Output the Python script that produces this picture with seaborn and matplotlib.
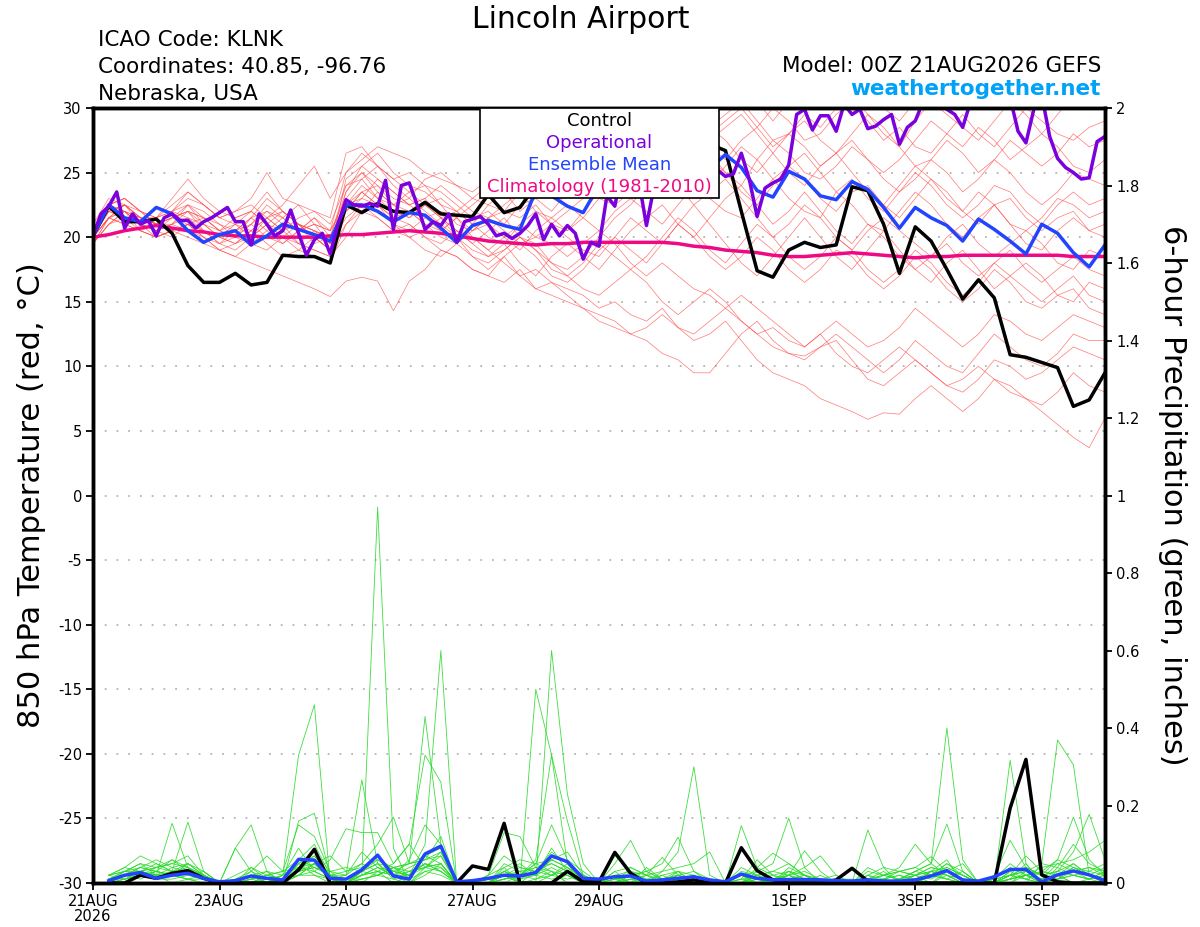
import numpy as np
import pandas as pd
import matplotlib
matplotlib.use('Agg')
import matplotlib.pyplot as plt
from matplotlib.patches import Rectangle
import seaborn as sns

# Pasos de 6 horas desde 00Z 21AUG2026 (65 puntos = 16 dias)
steps = np.arange(65)
precip_steps = np.arange(1, 65)
oper_steps = np.arange(129) / 2.0   # el operacional va cada 3 horas
tick_steps = [0, 8, 16, 24, 32, 44, 52, 60]
tick_labels = ['21AUG\n2026', '23AUG', '25AUG', '27AUG', '29AUG', '1SEP', '3SEP', '5SEP']

# Temperatura 850 hPa (C)
control_temp = [20.1, 22.4, 21.2, 21.2, 21.4, 20.3, 17.8, 16.5, 16.5, 17.2,
                16.3, 16.5, 18.6, 18.5, 18.5, 18.0, 22.5, 21.9, 22.6, 22.0,
                21.9, 22.7, 21.8, 21.7, 21.6, 23.3, 21.9, 22.3, 24.0, 24.5,
                25.0, 25.5, 26.0, 25.5, 26.0, 26.5, 26.0, 26.5, 27.0, 27.2,
                26.7, 22.0, 17.4, 16.9, 19.0, 19.6, 19.2, 19.4, 23.9, 23.6,
                21.0, 17.2, 20.8, 19.7, 17.5, 15.2, 16.7, 15.3, 10.9, 10.7,
                10.3, 9.9, 6.9, 7.4, 9.5]
mean_temp = [20.1, 22.5, 21.5, 21.2, 22.3, 21.8, 20.5, 19.6, 20.2, 20.5,
             19.4, 20.1, 21.0, 20.6, 20.2, 19.7, 22.5, 22.5, 22.0, 21.2,
             21.9, 21.7, 20.7, 19.6, 20.9, 21.3, 20.9, 20.6, 23.6, 23.2,
             22.4, 21.9, 24.0, 24.3, 24.0, 24.5, 24.8, 25.0, 25.0, 25.3,
             26.4, 25.4, 23.6, 23.1, 25.1, 24.5, 23.2, 22.9, 24.3, 23.7,
             22.3, 20.7, 22.3, 21.5, 20.9, 19.7, 21.4, 20.6, 19.7, 18.7,
             21.0, 20.3, 18.8, 17.7, 19.4]
clim_temp = [20.0, 20.2, 20.5, 20.7, 20.9, 20.7, 20.5, 20.4, 20.2, 20.1,
             20.1, 20.0, 20.0, 20.0, 20.0, 20.1, 20.2, 20.2, 20.3, 20.4,
             20.5, 20.4, 20.3, 20.1, 19.9, 19.7, 19.6, 19.5, 19.4, 19.5,
             19.5, 19.6, 19.6, 19.6, 19.6, 19.6, 19.6, 19.5, 19.3, 19.2,
             19.0, 18.9, 18.8, 18.6, 18.5, 18.5, 18.6, 18.7, 18.8, 18.7,
             18.6, 18.5, 18.4, 18.5, 18.5, 18.6, 18.6, 18.6, 18.6, 18.6,
             18.6, 18.6, 18.5, 18.5, 18.5]
oper_temp = [20.1, 21.8, 22.4, 23.5, 20.7, 21.8, 21.0, 21.3, 20.1, 21.5,
             21.8, 21.3, 21.3, 20.7, 21.2, 21.5, 21.9, 22.3, 21.2, 21.2,
             19.4, 21.8, 21.0, 20.1, 20.5, 22.1, 20.3, 18.6, 19.8, 20.3,
             18.7, 21.0, 22.9, 22.5, 22.4, 22.6, 22.4, 24.4, 20.6, 24.0,
             24.2, 22.5, 20.6, 21.2, 20.9, 21.8, 19.6, 21.2, 21.4, 21.6,
             21.0, 20.1, 20.3, 19.9, 20.3, 20.9, 21.8, 19.8, 21.0, 20.1,
             20.9, 20.3, 18.3, 19.6, 19.3, 23.2, 22.4, 25.5, 26.0, 24.5,
             20.9, 24.0, 25.0, 26.0, 25.5, 26.5, 26.0, 25.0, 25.5, 25.2,
             24.7, 24.9, 26.5, 24.5, 21.6, 23.8, 24.2, 24.5, 25.6, 29.5,
             29.9, 28.3, 29.4, 29.4, 28.2, 30.3, 29.5, 29.9, 28.4, 28.6,
             29.1, 29.5, 27.2, 28.5, 29.0, 30.5, 31.0, 30.8, 29.9, 29.5,
             28.5, 30.5, 31.2, 31.5, 31.0, 31.3, 30.8, 28.2, 27.3, 29.9,
             31.0, 27.8, 26.1, 25.4, 25.0, 24.5, 24.6, 27.4, 27.8]

# Miembros del ensemble (temperatura)
temp_m01 = [20.5, 22.0, 22.5, 21.5, 21.0, 21.5, 22.0, 20.5, 20.0, 21.0, 20.5, 21.5, 22.0, 21.0, 20.5,
            20.0, 23.5, 25.5, 26.5, 25.0, 24.0, 23.5, 22.5, 22.0, 23.0, 24.0, 23.5, 24.5, 25.5, 26.0,
            25.5, 27.0, 28.0, 29.5, 28.5, 30.0, 31.0, 30.0, 29.5, 31.0, 32.0, 31.0, 30.5, 29.0, 30.5,
            31.5, 30.5, 31.0, 32.0, 31.0, 30.0, 29.0, 30.5, 31.5, 32.0, 31.0, 30.0, 31.5, 32.5, 31.5,
            30.5, 31.5, 32.0, 31.0, 31.0]
temp_m02 = [20.0, 21.5, 22.5, 22.0, 21.5, 22.0, 21.5, 21.0, 20.5, 21.5, 22.0, 21.0, 20.5, 21.5, 22.0,
            21.0, 24.0, 24.5, 23.0, 22.5, 23.5, 22.5, 21.5, 22.0, 21.0, 22.5, 23.5, 22.0, 23.0, 24.5,
            26.0, 25.0, 26.5, 27.5, 26.5, 28.0, 29.5, 28.5, 27.0, 28.5, 29.5, 30.5, 29.0, 27.5, 28.0,
            29.5, 28.5, 30.0, 31.0, 29.5, 28.0, 27.0, 29.0, 30.5, 29.5, 28.5, 27.5, 29.0, 30.5, 29.5,
            28.0, 29.5, 31.0, 30.5, 30.0]
temp_m03 = [19.5, 21.0, 22.0, 21.5, 20.5, 21.0, 22.5, 21.5, 20.5, 20.0, 21.0, 22.5, 21.5, 20.5, 21.0,
            20.5, 22.5, 23.0, 24.5, 23.5, 22.5, 23.0, 24.0, 23.0, 22.0, 21.5, 22.0, 23.5, 24.5, 25.5,
            24.0, 23.5, 25.0, 26.5, 27.0, 25.5, 26.0, 27.5, 28.5, 27.0, 26.0, 27.5, 28.5, 30.0, 29.0,
            27.5, 28.0, 29.5, 30.5, 29.0, 27.5, 28.5, 27.0, 26.5, 28.0, 29.5, 28.0, 27.0, 28.5, 30.0,
            29.0, 28.0, 27.5, 28.5, 29.0]
temp_m04 = [20.0, 22.5, 23.0, 22.0, 21.5, 22.5, 23.5, 22.5, 21.5, 22.0, 23.0, 25.0, 23.0, 22.5, 22.0,
            21.5, 26.5, 27.0, 25.5, 24.5, 25.0, 24.0, 23.5, 22.5, 21.5, 22.0, 21.0, 22.5, 23.0, 22.0,
            23.5, 24.5, 26.0, 25.0, 27.0, 28.0, 26.5, 25.5, 27.0, 28.5, 27.5, 26.0, 25.0, 26.5, 28.0,
            29.0, 27.5, 26.5, 28.0, 29.5, 28.5, 27.0, 25.5, 26.0, 27.5, 26.5, 25.0, 26.0, 27.5, 26.5,
            25.5, 26.5, 28.0, 27.0, 27.5]
temp_m05 = [20.5, 22.0, 21.5, 21.0, 20.5, 21.0, 20.5, 20.0, 19.5, 20.5, 21.0, 20.0, 19.5, 20.5, 21.5,
            20.0, 22.0, 23.5, 24.0, 22.5, 23.0, 24.5, 25.0, 24.0, 23.5, 24.5, 25.5, 24.0, 23.5, 25.0,
            26.5, 27.5, 26.0, 25.0, 26.5, 27.5, 29.0, 30.5, 29.5, 28.0, 29.0, 30.0, 28.5, 27.0, 28.0,
            27.0, 25.5, 26.5, 27.5, 26.0, 25.0, 26.0, 27.5, 29.0, 28.0, 27.0, 28.5, 27.5, 26.0, 27.0,
            28.0, 27.0, 25.5, 25.0, 26.0]
temp_m06 = [19.5, 21.5, 22.0, 21.0, 21.5, 23.0, 24.5, 23.0, 22.0, 21.5, 22.0, 23.5, 22.0, 21.0, 20.5,
            19.5, 22.5, 23.5, 22.5, 21.5, 22.0, 21.0, 20.5, 21.5, 22.5, 23.5, 24.0, 25.0, 26.0, 25.5,
            24.5, 25.5, 26.5, 25.5, 24.0, 23.5, 25.0, 27.0, 28.0, 26.5, 25.0, 24.0, 26.0, 27.5, 26.5,
            25.0, 24.5, 25.5, 27.0, 26.0, 24.5, 23.5, 24.5, 26.0, 25.0, 23.5, 24.5, 26.0, 25.0, 23.5,
            22.5, 23.5, 25.0, 24.5, 24.0]
temp_m07 = [20.0, 22.0, 22.5, 21.5, 21.0, 21.5, 21.0, 20.5, 20.0, 19.5, 20.0, 21.5, 22.5, 24.0, 25.5,
            23.0, 25.0, 26.0, 27.0, 26.5, 26.0, 25.0, 24.5, 24.0, 23.0, 22.5, 22.0, 21.5, 22.5, 21.0,
            20.5, 22.0, 23.5, 25.0, 24.0, 23.0, 24.5, 26.5, 25.0, 24.0, 25.5, 27.0, 26.0, 24.5, 25.5,
            26.5, 25.0, 23.5, 24.5, 23.0, 22.0, 23.5, 25.0, 24.0, 22.5, 21.5, 22.5, 24.0, 23.5, 22.0,
            21.0, 22.5, 23.5, 22.5, 23.0]
temp_m08 = [20.5, 22.5, 22.0, 21.0, 20.5, 20.0, 21.0, 21.5, 21.0, 20.0, 19.5, 19.0, 20.0, 21.0, 20.5,
            19.5, 21.5, 22.5, 22.0, 21.0, 20.5, 21.5, 22.0, 21.5, 20.5, 21.5, 22.5, 23.5, 22.0, 21.0,
            22.0, 23.0, 24.5, 26.0, 25.0, 26.5, 28.0, 27.0, 26.0, 27.5, 28.5, 29.5, 28.0, 26.5, 25.0,
            24.0, 25.5, 26.5, 25.0, 23.5, 22.5, 24.0, 25.5, 24.5, 23.0, 22.0, 23.5, 22.5, 21.0, 20.5,
            21.5, 23.0, 22.5, 21.5, 22.0]
temp_m09 = [20.0, 21.5, 21.0, 20.5, 21.0, 21.5, 22.5, 22.0, 21.0, 20.5, 21.5, 22.0, 21.0, 19.5, 19.0,
            18.5, 20.0, 22.0, 23.5, 22.5, 21.5, 22.5, 23.0, 22.0, 21.0, 20.0, 19.5, 21.0, 22.0, 21.5,
            20.5, 21.5, 23.0, 22.5, 23.5, 25.0, 24.0, 23.0, 24.5, 26.0, 25.0, 23.5, 22.5, 24.0, 25.5,
            24.5, 23.0, 22.0, 23.5, 24.0, 22.5, 21.5, 23.0, 24.5, 23.5, 22.0, 21.0, 22.5, 23.0, 21.5,
            20.5, 21.5, 22.0, 20.5, 21.0]
temp_m10 = [21.0, 23.0, 22.5, 21.5, 21.0, 22.0, 23.0, 22.5, 21.5, 21.0, 20.0, 21.0, 22.0, 21.0, 19.5,
            20.0, 24.0, 25.0, 23.5, 22.5, 22.0, 21.0, 20.0, 19.5, 20.5, 21.0, 20.0, 19.0, 20.5, 21.5,
            22.5, 21.5, 20.5, 22.0, 23.0, 22.0, 21.0, 22.5, 24.0, 23.0, 22.0, 21.5, 23.0, 24.5, 23.0,
            22.0, 21.5, 23.5, 22.5, 21.0, 20.5, 22.0, 23.5, 22.5, 21.0, 20.0, 21.5, 22.5, 21.0, 19.5,
            19.0, 20.5, 21.5, 20.5, 20.0]
temp_m11 = [19.5, 21.0, 21.5, 21.0, 20.0, 20.5, 21.0, 20.0, 19.0, 19.5, 20.5, 19.5, 18.5, 19.0, 20.0,
            19.0, 21.0, 22.0, 21.5, 20.5, 21.0, 20.0, 19.5, 20.5, 19.5, 18.5, 19.0, 20.0, 19.5, 18.0,
            17.5, 18.5, 20.0, 21.5, 22.5, 24.0, 25.5, 24.0, 22.5, 23.5, 24.5, 23.0, 21.5, 20.0, 21.0,
            22.5, 21.5, 20.0, 19.0, 20.5, 21.5, 20.5, 19.5, 18.5, 20.0, 21.0, 19.5, 18.5, 19.5, 20.5,
            19.5, 18.0, 17.5, 19.0, 18.5]
temp_m12 = [20.0, 22.5, 23.0, 22.0, 21.0, 21.0, 22.0, 21.5, 20.5, 20.0, 21.0, 22.0, 21.5, 20.5, 21.0,
            20.5, 25.0, 26.5, 25.5, 24.0, 23.0, 22.0, 21.0, 20.0, 19.0, 18.5, 19.5, 18.0, 17.0, 18.5,
            19.5, 18.5, 17.5, 19.0, 20.5, 21.5, 22.5, 21.0, 20.0, 21.5, 23.0, 24.0, 22.5, 21.0, 22.0,
            23.5, 22.0, 20.5, 19.5, 21.0, 20.0, 18.5, 17.5, 18.5, 19.5, 18.0, 17.0, 18.0, 19.0, 17.5,
            16.5, 17.5, 18.5, 17.5, 17.0]
temp_m13 = [20.5, 22.0, 22.5, 21.5, 21.5, 22.0, 22.5, 21.0, 20.0, 20.5, 21.5, 20.5, 19.5, 20.5, 21.5,
            20.5, 23.0, 24.5, 25.5, 24.5, 23.5, 24.0, 22.5, 21.0, 20.5, 21.5, 20.5, 19.5, 20.0, 21.0,
            20.0, 19.0, 18.5, 20.0, 21.5, 20.5, 19.5, 21.0, 22.5, 21.0, 19.5, 18.0, 17.0, 18.5, 20.0,
            21.5, 20.0, 18.5, 17.5, 19.0, 20.5, 19.0, 17.5, 16.5, 18.0, 19.0, 17.5, 16.0, 17.0, 18.0,
            17.0, 15.5, 15.0, 16.5, 16.0]
temp_m14 = [19.5, 21.5, 22.0, 20.5, 20.0, 20.5, 21.0, 20.0, 19.0, 18.5, 19.5, 20.5, 21.5, 22.5, 21.0,
            19.5, 22.0, 23.0, 22.5, 21.0, 20.0, 20.5, 21.5, 20.0, 18.5, 18.0, 19.0, 20.0, 19.0, 17.5,
            17.0, 18.0, 19.5, 18.5, 17.5, 18.5, 20.0, 21.5, 20.5, 19.0, 18.0, 19.5, 21.0, 20.0, 18.5,
            17.5, 18.5, 20.0, 19.0, 17.5, 16.5, 17.5, 19.0, 18.0, 16.5, 15.5, 16.5, 18.0, 17.0, 16.0,
            15.0, 16.0, 17.0, 15.5, 15.0]
temp_m15 = [20.0, 21.5, 21.0, 20.5, 20.0, 20.5, 20.0, 19.5, 19.0, 18.5, 18.0, 17.5, 17.0, 16.5, 16.0,
            15.4, 16.6, 16.9, 16.6, 14.3, 16.6, 17.5, 19.0, 18.5, 17.5, 17.0, 18.5, 19.5, 18.5, 17.0,
            16.5, 17.5, 19.0, 20.0, 19.0, 18.0, 19.5, 21.0, 20.0, 18.5, 17.5, 18.5, 20.0, 19.0, 17.5,
            16.5, 17.5, 19.0, 18.5, 17.0, 16.0, 17.0, 18.5, 17.5, 16.0, 15.0, 16.0, 17.5, 16.5, 15.0,
            14.5, 15.5, 16.0, 14.5, 14.0]
temp_m16 = [20.5, 22.5, 22.0, 21.0, 20.5, 21.0, 21.5, 20.5, 19.5, 20.0, 21.5, 23.0, 22.0, 21.0, 20.0,
            19.0, 23.5, 25.0, 24.0, 23.0, 22.5, 21.5, 20.5, 21.5, 20.0, 19.0, 18.0, 17.0, 17.5, 16.5,
            16.0, 15.5, 14.5, 15.0, 14.0, 13.5, 14.5, 13.0, 12.5, 13.5, 14.5, 13.5, 12.5, 13.0, 12.0,
            11.5, 12.5, 13.5, 12.5, 11.5, 12.0, 13.0, 14.5, 13.5, 12.5, 11.5, 12.5, 14.0, 13.5, 12.5,
            12.0, 13.0, 14.0, 13.5, 13.0]
temp_m17 = [20.0, 21.5, 22.5, 21.0, 20.5, 21.5, 22.0, 21.0, 20.0, 19.5, 20.5, 21.5, 20.5, 19.5, 19.0,
            18.5, 22.0, 23.5, 22.5, 21.5, 21.0, 20.0, 19.0, 18.5, 17.5, 17.0, 16.5, 17.5, 16.0, 15.5,
            15.0, 14.5, 13.5, 13.0, 12.5, 12.0, 11.0, 10.5, 9.5, 9.5, 11.0, 12.5, 13.5, 12.0, 11.0,
            10.5, 11.5, 12.5, 11.5, 10.5, 9.5, 10.5, 12.0, 11.0, 10.0, 9.5, 11.0, 12.5, 11.5, 10.5,
            10.0, 11.0, 12.5, 12.0, 12.0]
temp_m18 = [19.5, 21.0, 22.0, 21.5, 21.0, 22.0, 23.5, 22.5, 21.5, 22.0, 22.5, 21.5, 20.5, 21.0, 20.0,
            19.0, 24.5, 25.5, 24.5, 23.5, 22.5, 23.0, 21.5, 20.5, 19.5, 20.5, 21.5, 20.0, 19.0, 18.0,
            17.0, 16.0, 15.5, 16.5, 17.5, 16.5, 15.0, 14.0, 15.0, 16.0, 15.0, 13.5, 12.5, 11.5, 11.0,
            10.8, 11.5, 12.0, 10.5, 9.0, 8.5, 9.5, 10.5, 9.5, 8.5, 8.0, 9.0, 10.5, 10.0, 9.0,
            9.5, 10.5, 11.5, 11.0, 10.5]
temp_m19 = [20.0, 22.0, 21.5, 20.5, 20.0, 20.5, 21.0, 20.5, 19.5, 19.0, 20.0, 21.0, 20.0, 19.0, 18.5,
            18.0, 21.0, 22.5, 21.5, 20.5, 20.0, 19.0, 18.5, 19.5, 18.5, 17.5, 18.5, 17.0, 16.0, 16.5,
            15.5, 14.5, 14.0, 13.5, 12.5, 13.0, 14.0, 13.0, 12.0, 12.5, 13.5, 12.0, 10.5, 9.5, 9.0,
            8.5, 7.5, 7.0, 6.5, 5.9, 6.4, 6.3, 7.5, 8.5, 7.5, 6.5, 7.5, 9.0, 8.5, 7.5,
            7.0, 8.0, 9.5, 8.5, 8.0]
temp_m20 = [20.5, 22.5, 23.0, 22.0, 21.0, 21.5, 22.0, 21.5, 20.5, 21.0, 22.0, 21.0, 20.0, 19.5, 20.5,
            20.0, 22.5, 24.0, 23.0, 22.0, 21.5, 22.5, 21.5, 20.5, 20.0, 19.0, 20.0, 21.0, 20.0, 19.5,
            18.5, 19.5, 20.5, 19.5, 18.0, 17.0, 18.0, 17.0, 16.0, 15.5, 14.5, 15.5, 14.5, 13.5, 12.5,
            11.5, 12.5, 11.0, 10.0, 9.5, 10.5, 11.5, 10.5, 9.5, 8.5, 9.0, 10.0, 9.0, 8.0, 7.5,
            6.5, 5.5, 4.5, 3.7, 6.0]

# Precipitacion de 6 horas (pulgadas), desde el paso 1
control_precip = [0, 0, .02, .012, .025, .032, .012, 0,
                  0, 0, 0, 0, .034, .087, 0, 0,
                  0, 0, 0, 0, 0, 0, 0, .044,
                  .035, .154, 0, 0, 0, .03, .003, .003,
                  .079, .025, 0, 0, .003, .008, 0, 0,
                  .091, .032, .008, 0, 0, 0, .008, .038,
                  .005, 0, 0, 0, 0, 0, 0, 0,
                  0, .193, .319, .021, .003, 0, 0, 0]
mean_precip = [.006, .02, .027, .012, .02, .025, .012, .003,
               .006, .018, .012, .008, .061, .059, .012, .01,
               .034, .072, .018, .01, .075, .095, .003, .006,
               .012, .02, .018, .027, .07, .055, .012, .01,
               .016, .018, .005, .008, .012, .016, .008, .003,
               .023, .012, .008, .009, .009, .008, .006, .005,
               .008, .005, .005, .008, .018, .032, .008, .005,
               .016, .035, .035, .003, .021, .031, .021, .006]

precip_m01 = [.01, .03, .05, .02, 0, .01, 0, 0, 0, .02, 0, 0, .05, .02, 0, 0,
              .02, .97, .09, 0, .02, .05, 0, 0, 0, .02, 0, .01, .03, 0, 0, 0,
              .02, 0, 0, .01, 0, 0, 0, 0, 0, .02, 0, 0, .01, 0, 0, 0,
              0, 0, .01, .03, .05, .40, .06, 0, 0, .01, .05, 0, .02, 0, 0, 0]
precip_m02 = [0, .02, .03, .02, .154, .04, .01, 0, 0, 0, .01, 0, .02, .05, .01, 0,
              0, .03, 0, .02, .10, .60, 0, 0, 0, 0, .02, .05, .03, 0, 0, 0,
              0, .02, 0, .03, .08, .30, .02, 0, 0, 0, .01, .02, 0, 0, 0, 0,
              0, 0, 0, .01, 0, .02, 0, 0, 0, 0, 0, .05, .369, .305, .02, 0]
precip_m03 = [.02, .04, .03, .05, .03, .157, .03, 0, 0, .03, 0, .02, .33, .46, 0, 0,
              .03, .05, .02, 0, .04, .08, 0, 0, 0, .01, .02, .06, .33, .05, 0, 0,
              0, 0, .01, 0, 0, .02, 0, 0, 0, .03, .05, .167, .04, 0, 0, 0,
              0, 0, 0, 0, .02, .05, .02, 0, 0, 0, .02, 0, .03, .05, .02, .01]
precip_m04 = [.01, .02, .04, .03, .02, .05, .02, 0, .09, .15, .03, 0, .06, .10, .02, .01,
              .01, .02, .04, .05, .43, .10, 0, 0, .01, .03, 0, 0, .02, .04, 0, 0,
              0, .03, 0, 0, .02, 0, 0, 0, .02, 0, 0, 0, 0, .01, 0, 0,
              0, 0, 0, .02, 0, .03, .01, 0, 0, .317, .05, 0, .01, .04, .02, 0]
precip_m05 = [0, .03, .02, .04, .06, .03, .01, 0, 0, 0, .02, .01, .03, .07, .02, .02,
              .266, .05, .01, 0, .03, .04, 0, 0, 0, .02, 0, .50, .33, .16, .02, 0,
              .02, 0, 0, 0, .01, 0, 0, 0, 0, .01, 0, .03, .02, 0, 0, 0,
              .02, 0, 0, 0, .03, .06, 0, 0, 0, 0, .03, .02, .06, .17, .06, .02]
precip_m06 = [.02, .03, .03, .02, .04, .05, .02, 0, 0, .04, .01, 0, .16, .18, .02, .03,
              .04, .06, .03, .02, .05, .03, 0, 0, .02, .04, 0, 0, .60, .23, .05, 0,
              0, .04, .02, .01, .03, 0, .01, 0, .148, .04, .02, 0, 0, .02, 0, 0,
              .01, .03, 0, .02, .03, .02, 0, 0, 0, .02, .04, .02, .03, .08, .177, .06]
precip_m07 = [.01, .02, .02, .03, .02, .03, .02, 0, 0, .02, .03, 0, .04, .03, .06, .14,
              .13, .13, .05, .10, .33, .26, 0, 0, 0, .03, .05, .02, .04, .02, 0, 0,
              .03, 0, 0, .02, 0, 0, 0, 0, 0, 0, 0, .02, .03, .01, 0, 0,
              .137, .04, 0, 0, .02, .03, .01, 0, 0, .01, .02, .04, .05, .06, .08, .11]
precip_m08 = [0, .01, .03, .02, .03, .04, .02, 0, 0, 0, .02, .03, .15, .12, .03, .02,
              .05, .10, .17, .05, .06, .12, 0, 0, .01, .02, 0, .03, .05, .03, 0, 0,
              0, .02, .03, .05, .118, .03, 0, 0, .02, 0, 0, .04, .02, 0, 0, 0,
              0, 0, .01, .03, .05, .152, .03, 0, 0, .03, .01, 0, .04, .10, .05, .03]
precip_m09 = [.02, .04, .07, .05, .03, .02, .01, 0, .02, .04, .02, .01, .05, .08, .03, 0,
              .02, .04, .02, .06, .15, .10, 0, 0, 0, .05, .03, .02, .06, .04, .01, 0,
              .05, .11, .03, .01, 0, .02, 0, 0, 0, .02, 0, .01, 0, 0, 0, 0,
              .03, .02, .04, .10, .05, .02, 0, 0, 0, .02, .07, .03, .02, 0, .01, .02]
precip_m10 = [.01, .03, .04, .06, .04, .03, .02, 0, .09, .03, .01, 0, .03, .05, .02, 0,
              .03, .05, .04, .02, .07, .09, 0, 0, .02, .07, .04, .03, .08, .05, .02, 0,
              .02, 0, .02, .066, .02, 0, 0, 0, .03, .02, 0, .02, .083, .03, 0, 0,
              0, .02, .03, .04, .068, .03, .01, 0, .01, .02, .03, .01, .05, .03, .02, .04]
precip_m11 = [.01, .02, .03, .04, .05, .04, .02, 0, .01, .03, .07, .03, .04, .06, .01, 0,
              .02, .03, .05, .10, .04, .05, 0, 0, 0, .04, .06, .05, .15, .06, .03, 0,
              .01, .02, 0, 0, .02, .01, 0, 0, 0, .04, .077, .05, .02, 0, 0, 0,
              0, .01, .02, 0, .03, .04, .02, 0, .02, .11, .04, .02, .01, .03, .04, .03]
precip_m12 = [.02, .03, .05, .04, .03, .05, .03, 0, 0, .02, .01, .02, .04, .05, .07, .03,
              .05, .03, .02, .04, .06, .07, 0, 0, .02, .13, .12, .04, .05, .03, 0, 0,
              .03, .04, .02, 0, .03, 0, 0, 0, .02, .03, .01, .02, 0, .01, 0, 0,
              .02, .04, .03, .02, .04, .03, .01, 0, 0, .02, .03, .05, .04, .02, .03, .05]
precip_m13 = [.01, .02, .03, .04, .05, .07, .02, 0, 0, .01, .03, .02, .05, .07, .02, 0,
              .03, .06, .04, .03, .05, .04, 0, 0, 0, .03, .02, .05, .06, .08, .02, 0,
              .02, .03, .02, .03, .04, .05, .08, 0, .01, .02, .03, .02, .04, .07, .02, 0,
              .02, .01, .03, .04, .02, .05, .03, 0, .01, .04, .02, .03, .02, .04, .03, .02]
precip_m14 = [0, .01, .02, .03, .06, .04, .02, 0, .01, .02, 0, .01, .03, .04, .03, .04,
              .03, .02, .04, .05, .06, .08, 0, 0, .01, .02, .03, .04, .02, .03, .01, 0,
              .07, .03, .01, .02, .03, .02, 0, 0, 0, .02, .03, .05, .02, .01, 0, 0,
              .01, .02, .03, .02, .04, .03, .05, 0, 0, .03, .04, .02, .03, .02, .01, .03]
precip_m15 = [.01, .02, .04, .03, .02, .03, .01, 0, 0, .01, .02, .03, .06, .04, .02, .01,
              .02, .04, .03, .05, .07, .05, 0, 0, 0, .02, .04, .03, .06, .04, .02, 0,
              .01, .02, .03, .01, .02, .03, .01, 0, .02, .01, .02, .03, .01, 0, 0, 0,
              .04, .02, .01, .03, .02, .04, .02, 0, 0, .02, .01, .03, .06, .04, .02, .01]
precip_m16 = [0, .02, .01, .03, .02, .01, .02, 0, 0, .01, .02, .01, .03, .04, .02, 0,
              .03, .07, .03, .02, .04, .03, 0, 0, 0, .01, .02, .04, .03, .02, 0, 0,
              .01, .02, 0, .01, .02, .01, 0, 0, .04, .02, .01, .02, .01, 0, 0, 0,
              .01, .02, .01, .02, .01, .03, .02, 0, 0, .01, .02, .01, .02, .03, .04, .02]
precip_m17 = [.01, .02, .03, .02, .02, .03, .01, 0, 0, .02, .01, 0, .02, .03, .01, .02,
              .08, .04, .02, .03, .04, .05, 0, 0, .01, .02, .01, .03, .02, .05, .01, 0,
              0, .01, .02, 0, .01, .02, 0, 0, .01, .06, .02, .01, .02, 0, 0, 0,
              0, .01, .02, .01, .03, .02, .01, 0, .01, .05, .02, .01, .02, .05, .02, .01]
precip_m18 = [0, .01, .02, .02, .02, .01, .01, 0, 0, .02, .01, .01, .02, .02, .01, 0,
              .02, .03, .02, .02, .05, .03, 0, 0, 0, .01, .02, .02, .09, .03, .01, 0,
              .01, 0, .04, .01, 0, .01, 0, 0, 0, .01, 0, .01, .02, .01, .02, 0,
              0, .01, 0, .01, .02, .01, .03, 0, 0, .01, .02, 0, .01, .02, .01, .03]
precip_m19 = [.01, .01, .02, .01, .02, .01, 0, 0, 0, .01, 0, .02, .09, .03, .01, 0,
              .01, .02, .04, .01, .03, .02, 0, 0, 0, .03, .01, .02, .01, .02, 0, 0,
              0, .01, 0, .01, .02, 0, 0, 0, .01, 0, .01, .03, .01, 0, 0, 0,
              0, 0, .01, .02, .03, .01, 0, 0, 0, .01, .02, .01, .02, .03, .01, 0]
precip_m20 = [.02, .01, .02, .01, .01, .02, .03, 0, 0, 0, .01, .01, .02, .05, .01, 0,
              .01, .02, .01, .03, .04, .07, 0, 0, 0, .01, .02, .01, .02, .01, .02, 0,
              0, .01, .01, 0, .01, 0, 0, 0, 0, .01, 0, .01, 0, 0, .01, .01,
              0, .01, 0, .01, .02, .01, 0, 0, .01, .02, .01, 0, .01, .02, .01, .02]

temp_members = [temp_m01, temp_m02, temp_m03, temp_m04, temp_m05, temp_m06, temp_m07,
                temp_m08, temp_m09, temp_m10, temp_m11, temp_m12, temp_m13, temp_m14,
                temp_m15, temp_m16, temp_m17, temp_m18, temp_m19, temp_m20]
precip_members = [precip_m01, precip_m02, precip_m03, precip_m04, precip_m05, precip_m06,
                  precip_m07, precip_m08, precip_m09, precip_m10, precip_m11, precip_m12,
                  precip_m13, precip_m14, precip_m15, precip_m16, precip_m17, precip_m18,
                  precip_m19, precip_m20]

# Tablas largas para seaborn (un "unit" por miembro)
temp_df = pd.DataFrame({
    'step': np.tile(steps, len(temp_members)),
    'temp': np.concatenate(temp_members),
    'member': np.repeat(np.arange(len(temp_members)), len(steps)),
})
precip_df = pd.DataFrame({
    'step': np.tile(precip_steps, len(precip_members)),
    'precip': np.concatenate(precip_members),
    'member': np.repeat(np.arange(len(precip_members)), len(precip_steps)),
})

plt.rcParams['axes.unicode_minus'] = False
plt.rcParams['font.family'] = ['DejaVu Sans']

W, H = 1200, 927
fig = plt.figure(figsize=(W / 100, H / 100), dpi=100)
ax = fig.add_axes([93 / W, (H - 883) / H, 1012 / W, 775 / H])
ax2 = ax.twinx()

# Lineas de referencia punteadas
for v in range(-25, 30, 5):
    ax.axhline(v, color='#B4B4B4', lw=1.3, ls=(0, (1, 5.5)), zorder=0.5)

# Temperatura: miembros y lineas principales
sns.lineplot(data=temp_df, x='step', y='temp', units='member', estimator=None,
             color='#FF4A4A', linewidth=0.5, alpha=0.75, ax=ax, legend=False)
sns.lineplot(x=steps, y=clim_temp, color='#EE0A84', linewidth=2.5, ax=ax)
sns.lineplot(x=steps, y=control_temp, color='black', linewidth=2.5, ax=ax)
sns.lineplot(x=steps, y=mean_temp, color='#2244FF', linewidth=2.5, ax=ax)
sns.lineplot(x=oper_steps, y=oper_temp, color='#7A00DD', linewidth=2.5, ax=ax)

# Precipitacion en el eje derecho
sns.lineplot(data=precip_df, x='step', y='precip', units='member', estimator=None,
             color='#2ADB2A', linewidth=0.6, alpha=0.9, ax=ax2, legend=False)
sns.lineplot(x=precip_steps, y=control_precip, color='black', linewidth=2.5, ax=ax2)
sns.lineplot(x=precip_steps, y=mean_precip, color='#2244FF', linewidth=2.5, ax=ax2)

ax.set_xlim(0, 64)
ax.set_ylim(-30, 30)
ax2.set_ylim(0, 2)
ax.set_xlabel('')
ax.set_ylabel('')
ax2.set_ylabel('')

ax.set_yticks(range(-30, 31, 5))
ax.set_yticklabels([str(v) for v in range(-30, 31, 5)])
p_ticks = np.round(np.arange(0, 2.01, 0.2), 1)
ax2.set_yticks(p_ticks)
ax2.set_yticklabels([f'{v:g}' for v in p_ticks])
ax.set_xticks(tick_steps)
ax.set_xticklabels(tick_labels, linespacing=1.0)

ax.tick_params(axis='both', direction='out', length=5, width=1.3, labelsize=10.5, pad=3)
ax2.tick_params(axis='y', direction='out', length=5, width=1.3, labelsize=10.5, pad=3)
for a in (ax, ax2):
    for s in a.spines.values():
        s.set_linewidth(2.5)

# Caja de leyenda centrada arriba
x0 = (480 - 93) / 1012
x1 = (719 - 93) / 1012
y0 = (883 - 198) / 775
ax2.add_patch(Rectangle((x0, y0), x1 - x0, 1 - y0, transform=ax2.transAxes,
                        facecolor='white', edgecolor='black', lw=1.2, zorder=20, clip_on=False))
legend_items = [('Control', 'black', 126), ('Operational', '#7A00DD', 148),
                ('Ensemble Mean', '#2244FF', 169.5), ('Climatology (1981-2010)', '#EE0A84', 191.5)]
for label, col, yb in legend_items:
    ax2.text((x0 + x1) / 2, (883 - yb) / 775, label, color=col, fontsize=13,
             ha='center', va='baseline', transform=ax2.transAxes, zorder=21)

# Textos de cabecera
fig.text(581 / W, 1 - 28 / H, 'Lincoln Airport', fontsize=21.5, ha='center', va='baseline')
fig.text(98 / W, 1 - 46 / H, 'ICAO Code: KLNK', fontsize=15.5, ha='left', va='baseline')
fig.text(98 / W, 1 - 73 / H, 'Coordinates: 40.85, -96.76', fontsize=15.5, ha='left', va='baseline')
fig.text(98 / W, 1 - 100 / H, 'Nebraska, USA', fontsize=15.5, ha='left', va='baseline')
fig.text(1101 / W, 1 - 72 / H, 'Model: 00Z 21AUG2026 GEFS', fontsize=15.5, ha='right', va='baseline')
fig.text(1101 / W, 1 - 95 / H, 'weathertogether.net', fontsize=15.5, fontweight='bold',
         color='#00A2F8', ha='right', va='baseline')

# Titulos de ejes
fig.text(32 / W, 1 - 495 / H, '850 hPa Temperature (red, °C)', fontsize=22,
         rotation=90, ha='center', va='center')
fig.text(1172 / W, 1 - 495 / H, '6-hour Precipitation (green, inches)', fontsize=22,
         rotation=270, ha='center', va='center')

plt.savefig('out.png', dpi=100)
plt.close()
